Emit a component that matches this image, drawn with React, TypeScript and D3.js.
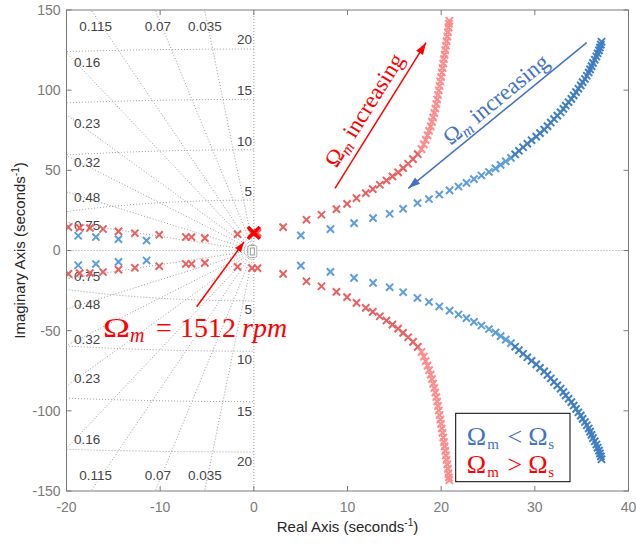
import React from "react";
import * as d3 from "d3";

const W = 636;
const H = 543;

const xDomain = [-20, 40];
const yDomain = [-150, 150];
const xTicks = [-20, -10, 0, 10, 20, 30, 40];
const yTicks = [-150, -100, -50, 0, 50, 100, 150];

// s-plane grid
const dampingRatios = [0.035, 0.07, 0.115, 0.16, 0.23, 0.32, 0.48, 0.75];
const naturalFreqHz = [5, 10, 15, 20];
const topDampLabels = ["0.115", "0.07", "0.035"];
const topDampLabelRe = [-16.9, -10.25, -5.23];
const sideDampLabels = ["0.16", "0.23", "0.32", "0.48", "0.75"];
const sideDampLabelIm = [117.6, 79.5, 55.2, 33.4, 15.9];
const freqLabels = ["5", "10", "15", "20"];
const freqLabelIm = [36.7, 68, 100, 131.5];

// poles (upper half; the lower half are the complex conjugates)
const redLeft: [number, number][] = [
  [-19.8, 14.6], [-18.6, 14.1], [-17.5, 14.0], [-16.1, 13.4], [-14.45, 11.9],
  [-12.7, 10.8], [-10.1, 9.8], [-7.26, 8.4], [-6.65, 8.4], [-5.23, 7.7], [-1.74, 10.2],
];
const blueLeft: [number, number][] = [
  [-18.75, 9.2], [-16.86, 8.4], [-14.45, 7.1], [-11.45, 6.2],
];
const redOrigin: [number, number][] = [[-0.2, 11], [0.4, 11]];
const highlightPole: [number, number] = [0, 11];

const redNear: [number, number][] = [
  [3.13, 14.6], [5.62, 19.2], [7.22, 22.3], [8.82, 25.8], [9.96, 29.1], [10.96, 32.7],
  [11.95, 35.8], [12.7, 38.3], [13.45, 41], [14.16, 43.7], [14.8, 46.2], [15.4, 48.7],
  [15.94, 51.4], [16.47, 54.1], [17.0, 57], [17.5, 60.1],
];
const redFar: [number, number][] = [
  [17.9, 63.2], [18.15, 66.2], [18.35, 69.0], [18.55, 71.8], [18.72, 74.6], [18.88, 77.4],
  [19.02, 80.2], [19.15, 83.0], [19.27, 85.8], [19.38, 88.6], [19.48, 91.4], [19.57, 94.2],
  [19.66, 97.0], [19.75, 99.8], [19.83, 102.6], [19.91, 105.4], [19.99, 108.2], [20.07, 111.0],
  [20.15, 113.8], [20.22, 116.6], [20.3, 119.4], [20.37, 122.2], [20.44, 125.0], [20.51, 127.8],
  [20.58, 130.6], [20.65, 133.4], [20.72, 136.2], [20.78, 139.0], [20.83, 141.5], [20.87, 143.3],
];
const blueNear: [number, number][] = [
  [5.02, 9.4], [8.18, 13.3], [10.7, 17.1], [12.73, 20.2], [14.5, 22.9], [15.94, 26],
  [17.47, 29.6], [18.7, 32.1], [19.8, 34.9], [20.9, 37.5], [21.85, 39.9], [22.7, 42.2],
  [23.5, 44.5], [24.3, 46.8], [25.1, 49.0], [25.8, 51.2], [26.35, 53.4], [26.9, 55.6],
  [27.45, 57.8],
];
const blueFar: [number, number][] = [
  [27.9, 60.0], [28.3, 62.2], [28.75, 64.4], [29.2, 66.6], [29.65, 68.8], [30.15, 71.0],
  [30.55, 73.2], [31.0, 75.4], [31.35, 77.6], [31.7, 79.8], [32.05, 82.0], [32.4, 84.1],
  [32.75, 86.2], [33.05, 88.3], [33.3, 90.4], [33.6, 92.5], [33.9, 94.6], [34.15, 96.7],
  [34.4, 98.8], [34.65, 100.9], [34.9, 103.0], [35.1, 105.0], [35.35, 107.0], [35.55, 109.0],
  [35.75, 111.0], [35.9, 113.0], [36.05, 115.0], [36.2, 117.0], [36.4, 119.0], [36.57, 121.0],
  [36.7, 123.0], [36.85, 124.8], [36.95, 126.6], [37.05, 128.4], [37.12, 130.2],
];

const withConj = (pts: [number, number][]) => [...pts, ...pts.map(([re, im]) => [re, -im] as [number, number])];

const series = [
  { pts: withConj(redLeft), color: "#e8605f" },
  { pts: withConj(blueLeft), color: "#5c9ddb" },
  { pts: withConj(redOrigin), color: "#e8605f" },
  { pts: withConj(redNear), color: "#e8605f" },
  { pts: withConj(redFar), color: "#ff8b8b" },
  { pts: withConj(blueNear), color: "#5c9ddb" },
  { pts: withConj(blueFar), color: "#3f7fc2" },
];

const L = 66.5, R = 628.5, T = 10, B = 491;

export default function App() {
  const x = d3.scaleLinear().domain(xDomain).range([L, R]);
  const y = d3.scaleLinear().domain(yDomain).range([B, T]);
  const gridStyle = { stroke: "#9c9c9c", strokeWidth: 1, strokeDasharray: "1 2", fill: "none" };
  const line = d3.line<[number, number]>().x((d) => x(d[0])).y((d) => y(d[1]));

  const xMark = (cx: number, cy: number, s: number) =>
    `M${cx - s},${cy - s}L${cx + s},${cy + s}M${cx - s},${cy + s}L${cx + s},${cy - s}`;

  const arrowHead = (x1: number, y1: number, x2: number, y2: number, len: number, wid: number) => {
    const a = Math.atan2(y2 - y1, x2 - x1);
    const bx = x2 - len * Math.cos(a), by = y2 - len * Math.sin(a);
    const px = -Math.sin(a) * wid / 2, py = Math.cos(a) * wid / 2;
    return `M${x2},${y2}L${bx + px},${by + py}L${bx - px},${by - py}Z`;
  };

  // annotation arrows (pixel positions)
  const redArr = [335, 188.3, 426, 42.7];
  const blueArr = [586.7, 42.7, 408.3, 188.3];
  const rpmArr = [196.7, 306.7, 244, 242];

  const labelAlong = (x1: number, y1: number, x2: number, y2: number, off: number, along: number) => {
    const dx = x2 - x1, dy = y2 - y1;
    const len = Math.hypot(dx, dy);
    const ux = dx / len, uy = dy / len;
    let nx = uy, ny = -ux;
    if (ny > 0) { nx = -nx; ny = -ny; }
    let tx = ux, ty = uy;
    if (ty > 0) { tx = -tx; ty = -ty; }
    const mx = (x1 + x2) / 2 + nx * off + tx * along;
    const my = (y1 + y2) / 2 + ny * off + ty * along;
    const ang = (Math.atan2(ty, tx) * 180) / Math.PI;
    return { mx, my, ang };
  };
  const redLbl = labelAlong(redArr[0], redArr[1], redArr[2], redArr[3], 9, -4);
  const blueLbl = labelAlong(blueArr[0], blueArr[1], blueArr[2], blueArr[3], 6, 9);

  const serif = "'Liberation Serif', 'Times New Roman', serif";
  const sans = "'Liberation Sans', Arial, Helvetica, sans-serif";

  return (
    <svg width={W} height={H} style={{ position: "absolute", left: 0, top: 0, background: "#fff" }}>
      <defs>
        <clipPath id="plot">
          <rect x={L} y={T} width={R - L} height={B - T} />
        </clipPath>
      </defs>
      <rect x={0} y={0} width={W} height={H} fill="#fff" />
      <g clipPath="url(#plot)">
        {dampingRatios.map((z) =>
          [1, -1].map((s) => (
            <path key={`z${z}${s}`} d={line([[0, 0], [-z * 400, s * Math.sqrt(1 - z * z) * 400]])!} style={gridStyle} />
          ))
        )}
        {naturalFreqHz.map((f) => {
          const r = 2 * Math.PI * f;
          const pts: [number, number][] = d3.range(90, 270.5, 0.5).map((deg) => [
            r * Math.cos((deg * Math.PI) / 180),
            r * Math.sin((deg * Math.PI) / 180),
          ]);
          return <path key={`f${f}`} d={line(pts)!} style={gridStyle} />;
        })}
        <path d={line([[0, yDomain[0]], [0, yDomain[1]]])!} style={gridStyle} />
        <path d={line([[xDomain[0], 0], [xDomain[1], 0]])!} style={gridStyle} />
      </g>

      {/* grid labels */}
      <g fontFamily={sans} fontSize={13.5} fill="#444">
        {topDampLabels.map((t, i) =>
          [1, -1].map((s) => (
            <text key={`td${t}${s}`} x={x(topDampLabelRe[i])} y={y(s * 140)} textAnchor="middle" dy="0.35em">{t}</text>
          ))
        )}
        {sideDampLabels.map((t, i) =>
          [1, -1].map((s) => (
            <text key={`sd${t}${s}`} x={x(-19.2)} y={y(s * sideDampLabelIm[i])} textAnchor="start" dy="0.35em">{t}</text>
          ))
        )}
        {freqLabels.map((t, i) =>
          [1, -1].map((s) => (
            <text key={`fl${t}${s}`} x={x(-0.2)} y={y(s * freqLabelIm[i])} textAnchor="end" dy="0.35em">{t}</text>
          ))
        )}
      </g>

      {/* small marker near origin */}
      <rect x={x(0) - 6} y={y(0) - 5} width={9} height={12} rx={2} fill="#fff" stroke="#aaa" strokeWidth={1} />
      <rect x={x(0) - 3.5} y={y(0) - 2.5} width={4} height={7} fill="none" stroke="#999" strokeWidth={1} />

      {/* poles */}
      <g clipPath="url(#plot)" fill="none">
        {series.map((s, si) =>
          s.pts.map((p, i) => (
            <path key={`p${si}-${i}`} d={xMark(x(p[0]), y(p[1]), 3.6)} stroke={s.color} strokeWidth={2} />
          ))
        )}
        <path d={xMark(x(highlightPole[0]), y(highlightPole[1]), 6)} stroke="#ff0000" strokeWidth={3.5} />
      </g>

      {/* axes box and ticks */}
      <g stroke="#7a7a7a" strokeWidth={1} fill="none">
        <rect x={L} y={T} width={R - L} height={B - T} />
        {xTicks.map((t) => (
          <g key={`xt${t}`}>
            <line x1={x(t)} x2={x(t)} y1={B} y2={B - 5} />
            <line x1={x(t)} x2={x(t)} y1={T} y2={T + 5} />
          </g>
        ))}
        {yTicks.map((t) => (
          <g key={`yt${t}`}>
            <line x1={L} x2={L + 5} y1={y(t)} y2={y(t)} />
            <line x1={R} x2={R - 5} y1={y(t)} y2={y(t)} />
          </g>
        ))}
      </g>
      <g fontFamily={sans} fontSize={14} fill="#7a7a7a">
        {xTicks.map((t) => (
          <text key={`xl${t}`} x={x(t)} y={B + 21} textAnchor="middle">{t}</text>
        ))}
        {yTicks.map((t) => (
          <text key={`yl${t}`} x={L - 6} y={y(t)} dy="0.35em" textAnchor="end">{t}</text>
        ))}
      </g>
      <g fontFamily={sans} fontSize={15} fill="#262626">
        <text x={(L + R) / 2} y={532} textAnchor="middle">
          Real Axis (seconds<tspan dy={-6} fontSize={10}>-1</tspan><tspan dy={6}>)</tspan>
        </text>
        <text transform={`translate(25,${(T + B) / 2}) rotate(-90)`} textAnchor="middle">
          Imaginary Axis (seconds<tspan dy={-6} fontSize={10}>-1</tspan><tspan dy={6}>)</tspan>
        </text>
      </g>

      {/* annotations */}
      <line x1={rpmArr[0]} y1={rpmArr[1]} x2={rpmArr[2]} y2={rpmArr[3]} stroke="#ff0000" strokeWidth={1.5} />
      <path d={arrowHead(rpmArr[0], rpmArr[1], rpmArr[2], rpmArr[3], 10, 7)} fill="#ff0000" />
      <text transform="translate(103,337) scale(1.3,1)" fill="#ff0000" fontFamily={serif} fontSize={28}>Ω</text>
      <text fill="#ff0000" fontFamily={serif} fontSize={28}>
        <tspan x={130} y={342} fontStyle="italic" fontSize={20}>m</tspan>
        <tspan x={156} y={337}>=</tspan>
        <tspan x={180} y={337}>1512</tspan>
        <tspan x={242} y={337} fontStyle="italic">rpm</tspan>
      </text>

      <line x1={redArr[0]} y1={redArr[1]} x2={redArr[2]} y2={redArr[3]} stroke="#ff0000" strokeWidth={1.5} />
      <path d={arrowHead(redArr[0], redArr[1], redArr[2], redArr[3], 12, 8)} fill="#ff0000" />
      <text transform={`translate(${redLbl.mx},${redLbl.my}) rotate(${redLbl.ang})`} textAnchor="middle" fill="#ff0000" fontFamily={serif} fontSize={23}>
        Ω<tspan fontStyle="italic" fontSize={16} dy={4}>m</tspan><tspan dy={-4}> increasing</tspan>
      </text>

      <line x1={blueArr[0]} y1={blueArr[1]} x2={blueArr[2]} y2={blueArr[3]} stroke="#4472c4" strokeWidth={1.5} />
      <path d={arrowHead(blueArr[0], blueArr[1], blueArr[2], blueArr[3], 12, 8)} fill="#4472c4" />
      <text transform={`translate(${blueLbl.mx},${blueLbl.my}) rotate(${blueLbl.ang})`} textAnchor="middle" fill="#4472c4" fontFamily={serif} fontSize={23}>
        Ω<tspan fontStyle="italic" fontSize={16} dy={4}>m</tspan><tspan dy={-4}> increasing</tspan>
      </text>

      {/* legend */}
      <rect x={455.7} y={413.3} width={114.3} height={68.4} fill="#fff" stroke="#000" strokeWidth={1} />
      <text fill="#4472c4" fontFamily={serif} fontSize={26}>
        <tspan x={466.7} y={445}>Ω</tspan>
        <tspan x={487.3} y={449} fontSize={15}>m</tspan>
        <tspan x={507.5} y={445}>&lt;</tspan>
        <tspan x={528.3} y={445}>Ω</tspan>
        <tspan x={548.3} y={449} fontSize={15}>s</tspan>
      </text>
      <text fill="#ff0000" fontFamily={serif} fontSize={26}>
        <tspan x={466.7} y={473.3}>Ω</tspan>
        <tspan x={487.3} y={477.3} fontSize={15}>m</tspan>
        <tspan x={507.5} y={473.3}>&gt;</tspan>
        <tspan x={528.3} y={473.3}>Ω</tspan>
        <tspan x={548.3} y={477.3} fontSize={15}>s</tspan>
      </text>
    </svg>
  );
}
